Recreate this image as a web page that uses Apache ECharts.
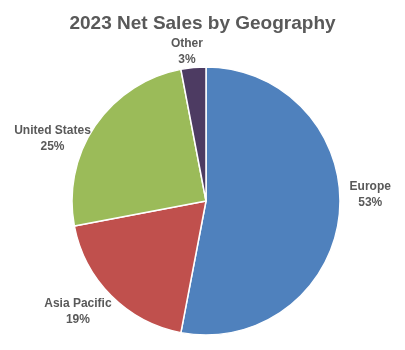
<!DOCTYPE html>
<html>
<head>
<meta charset="utf-8">
<script src="https://cdn.jsdelivr.net/npm/echarts@6/dist/echarts.min.js"></script>
<style>
html,body{margin:0;padding:0;background:#fff;}
#chart{width:405px;height:350px;}
</style>
</head>
<body>
<div id="chart"></div>
<script>
const titleText = '2023 Net Sales by Geography';
const categories = ['Europe', 'Asia Pacific', 'United States', 'Other'];
const values = [53, 19, 25, 3];
const colors = ['#4F81BD', '#C0504D', '#9BBB59', '#4D3B62'];

const CX = 206, CY = 201, R = 134;
// label distance beyond the rim and small pixel nudges (style only)
const labelOffsets = [29, 33, 31, 16];
const labelNudges = [[2, -22], [-10, -7], [-17, 30], [-5, 0]];

const total = values.reduce((a, b) => a + b, 0);
function midAngle(i) {
  let before = 0;
  for (let k = 0; k < i; k++) before += values[k];
  return ((before + values[i] / 2) / total) * 2 * Math.PI;
}

const chart = echarts.init(document.getElementById('chart'), null, {renderer: 'canvas'});
chart.setOption({
  animation: false,
  backgroundColor: '#ffffff',
  title: {
    text: titleText,
    left: 'center',
    top: 9,
    textStyle: {
      fontFamily: 'Liberation Sans, Arial, sans-serif',
      fontSize: 19,
      fontWeight: 'bold',
      color: '#595959'
    }
  },
  series: [{
    type: 'pie',
    center: [CX, CY],
    radius: R,
    startAngle: 90,
    clockwise: true,
    avoidLabelOverlap: false,
    data: categories.map((c, i) => ({
      name: c,
      value: values[i],
      itemStyle: {color: colors[i]}
    })),
    itemStyle: {borderColor: '#ffffff', borderWidth: 1.5},
    label: {
      show: true,
      position: 'outside',
      formatter: p => p.name + '\n' + p.value + '%',
      fontFamily: 'Liberation Sans, Arial, sans-serif',
      fontSize: 12,
      fontWeight: 'bold',
      color: '#595959',
      lineHeight: 16,
      align: 'center'
    },
    labelLine: {show: false},
    labelLayout: function (params) {
      const i = params.dataIndex;
      const a = midAngle(i);
      const d = R + labelOffsets[i];
      return {
        x: CX + d * Math.sin(a) + labelNudges[i][0],
        y: CY - d * Math.cos(a) + labelNudges[i][1],
        align: 'center',
        verticalAlign: 'middle'
      };
    }
  }]
});
</script>
</body>
</html>
